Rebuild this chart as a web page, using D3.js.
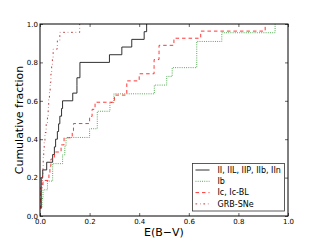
<!DOCTYPE html>
<html>
<head>
<meta charset="utf-8">
<script src="https://cdn.jsdelivr.net/npm/d3@7"></script>
<style>
  body { margin: 0; background: #fff; }
  svg { display: block; font-family: "DejaVu Sans", sans-serif; }
</style>
</head>
<body>
<script>
// E(B-V) per sample, sorted
var typeII = [0.003, 0.005, 0.005, 0.005, 0.005, 0.011, 0.027, 0.051, 0.058, 0.063,
    0.07, 0.075, 0.08, 0.087, 0.091, 0.132, 0.149, 0.149, 0.161, 0.161,
    0.28, 0.33, 0.37, 0.42, 0.43];
var typeIb = [0.008, 0.008, 0.012, 0.03, 0.051, 0.051, 0.091, 0.1, 0.105, 0.2,
    0.231, 0.231, 0.282, 0.298, 0.461, 0.511, 0.533, 0.632, 0.632, 0.632,
    0.733, 0.948];
var typeIc = [0.003, 0.003, 0.003, 0.003, 0.012, 0.036, 0.04, 0.044, 0.058, 0.085,
    0.097, 0.13, 0.135, 0.2, 0.21, 0.222, 0.3, 0.35, 0.35, 0.4,
    0.46, 0.46, 0.48, 0.48, 0.54, 0.648, 0.908];
var grb = [0.004, 0.004, 0.004, 0.008, 0.01, 0.012, 0.013, 0.015, 0.017, 0.02,
    0.025, 0.03, 0.033, 0.035, 0.038, 0.041, 0.044, 0.047, 0.05, 0.053,
    0.07, 0.08, 0.16];

var seriesNames = ["II, IIL, IIP, IIb, IIn", "Ib", "Ic, Ic-BL", "GRB-SNe"];
var xTicks = [0.0, 0.2, 0.4, 0.6, 0.8, 1.0];
var yTicks = [0.0, 0.2, 0.4, 0.6, 0.8, 1.0];

var w = 320;
var h = 240;
var mLeft = 40, mRight = 288, mTop = 24, mBottom = 216;

var svg = d3.select("body").append("svg")
    .attr("width", w)
    .attr("height", h);

var x = d3.scaleLinear().domain([0, 1]).range([mLeft, mRight]);
var y = d3.scaleLinear().domain([0, 1]).range([mBottom, mTop]);

var styles = [
    {color: "#1a1a1a", dash: null},
    {color: "#2e9a2e", dash: "0.9,1.3"},
    {color: "#ff2020", dash: "3.5,3"},
    {color: "#b02828", dash: "1.7,2.8,0.6,2.8"}
];
var samples = [typeII, typeIb, typeIc, grb];

// cumulative fraction
var line = d3.line()
    .x(d => x(d[0]))
    .y(d => y(d[1]))
    .curve(d3.curveStepAfter);

var curves = svg.append("g");
samples.forEach(function (s, k) {
    var pts = s.map((v, i) => [v, (i + 1) / s.length]);
    curves.append("path")
        .attr("d", line(pts))
        .attr("fill", "none")
        .attr("stroke", styles[k].color)
        .attr("stroke-width", 0.9)
        .attr("stroke-dasharray", styles[k].dash);
});

// axes, ticks pointing inward
var fmt = d3.format(".1f");
function tidy(g) {
    g.select(".domain").remove();
    g.selectAll(".tick line").attr("stroke", "#666");
    g.selectAll("text").attr("font-size", "7px").attr("fill", "#000")
        .attr("font-family", "DejaVu Sans");
}
svg.append("g")
    .attr("transform", "translate(0," + mBottom + ")")
    .call(d3.axisBottom(x).tickValues(xTicks).tickFormat(fmt).tickSizeInner(-3).tickSizeOuter(0).tickPadding(3))
    .call(tidy);
svg.append("g")
    .attr("transform", "translate(0," + mTop + ")")
    .call(d3.axisTop(x).tickValues(xTicks).tickFormat("").tickSizeInner(-3).tickSizeOuter(0))
    .call(tidy);
svg.append("g")
    .attr("transform", "translate(" + mLeft + ",0)")
    .call(d3.axisLeft(y).tickValues(yTicks).tickFormat(fmt).tickSizeInner(-3).tickSizeOuter(0).tickPadding(2))
    .call(tidy);
svg.append("g")
    .attr("transform", "translate(" + mRight + ",0)")
    .call(d3.axisRight(y).tickValues(yTicks).tickFormat("").tickSizeInner(-3).tickSizeOuter(0))
    .call(tidy);

// frame
svg.append("rect")
    .attr("x", mLeft)
    .attr("y", mTop)
    .attr("width", mRight - mLeft)
    .attr("height", mBottom - mTop)
    .attr("fill", "none")
    .attr("stroke", "#000")
    .attr("stroke-width", 1);

// axis labels
svg.append("text")
    .attr("x", (mLeft + mRight) / 2)
    .attr("y", 235.5)
    .attr("text-anchor", "middle")
    .attr("font-size", "11px")
    .text("E(B\u2212V)");
svg.append("text")
    .attr("transform", "rotate(-90)")
    .attr("x", -(mTop + mBottom) / 2)
    .attr("y", 23)
    .attr("text-anchor", "middle")
    .attr("font-size", "11px")
    .text("Cumulative fraction");

// legend
var legend = svg.append("g").attr("transform", "translate(192.5,163.5)");
legend.append("rect")
    .attr("width", 92)
    .attr("height", 47.5)
    .attr("fill", "#fff")
    .attr("stroke", "#333")
    .attr("stroke-width", 0.8);
seriesNames.forEach(function (name, k) {
    var ly = 6.5 + k * 11.3;
    legend.append("line")
        .attr("x1", 3).attr("x2", 17)
        .attr("y1", ly).attr("y2", ly)
        .attr("stroke", styles[k].color)
        .attr("stroke-width", 0.9)
        .attr("stroke-dasharray", styles[k].dash);
    legend.append("text")
        .attr("x", 25)
        .attr("y", ly)
        .attr("dy", "0.35em")
        .attr("font-size", "8px")
        .text(name);
});
</script>
</body>
</html>
